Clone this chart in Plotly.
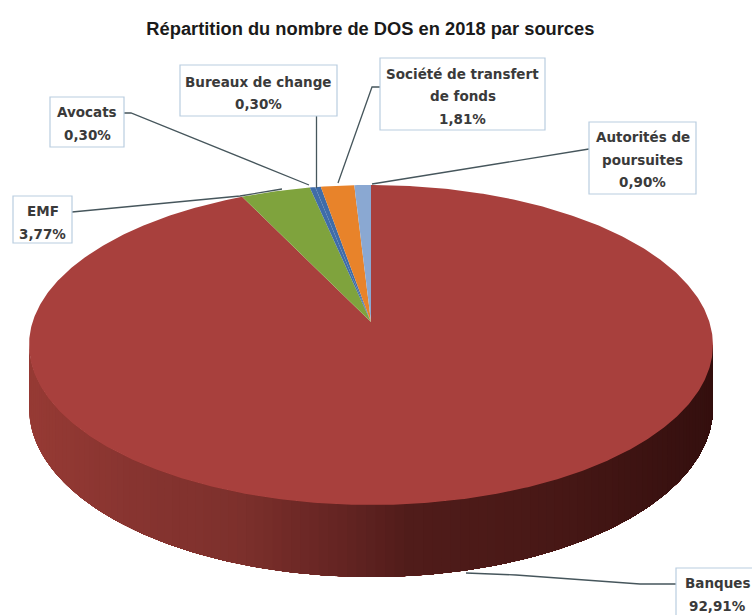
import numpy as np
import plotly.graph_objects as go

# Share of suspicious-transaction reports (DOS) by source, in percent
sources = ["Banques", "EMF", "Avocats", "Bureaux de change", "Société de transfert de fonds", "Autorités de poursuites"]
shares = [92.91, 3.77, 0.30, 0.30, 1.81, 0.90]
share_labels = ["92,91%", "3,77%", "0,30%", "0,30%", "1,81%", "0,90%"]
top_colors = ["#A8403D", "#7FA33D", "#3F6CA8", "#3F6CA8", "#E8832A", "#8AA8D2"]

# Perspective model of the tilted disc, in page pixels
CX, CY = 371.0, 322.0
RX, RY = 338.4, 156.7
TILT = 0.1437
DEPTH = 61.6


def project(theta_deg, radius=1.0, drop=0.0):
    """Map clockwise degrees from 12 o'clock to screen x, y."""
    t = np.radians(theta_deg)
    u = radius * np.sin(t)
    v = -radius * np.cos(t)
    w = 1 - TILT * v
    return CX + RX * u / w, CY + RY * v / w + drop / w


def lerp_color(stops, f):
    for (a, ca), (b, cb) in zip(stops, stops[1:]):
        if f <= b:
            k = (f - a) / (b - a)
            c = [round(x + (y - x) * k) for x, y in zip(ca, cb)]
            return f"rgb({c[0]},{c[1]},{c[2]})"
    c = stops[-1][1]
    return f"rgb({c[0]},{c[1]},{c[2]})"


fig = go.Figure()

# Outer wall shaded left to right: each band runs to the far end of the rim
# and is overpainted by the next one, which keeps the shading free of seams
wall_stops = [
    (0.00, (150, 58, 52)),
    (0.15, (135, 52, 48)),
    (0.30, (125, 48, 44)),
    (0.45, (100, 36, 34)),
    (0.55, (80, 28, 26)),
    (0.75, (72, 24, 22)),
    (1.00, (52, 15, 14)),
]
WALL_END = 98.0
wall_steps = np.linspace(262, WALL_END, 120)
for a0 in wall_steps[:-1]:
    arc = np.linspace(a0, WALL_END, max(3, int((a0 - WALL_END) * 2)))
    xt, yt = project(arc)
    xb, yb = project(arc, drop=DEPTH)
    xm = (xt[0] - (CX - 342)) / 684
    fig.add_trace(go.Scatter(
        x=np.r_[xt, xb[::-1], xt[0]],
        y=np.r_[yt, yb[::-1], yt[0]],
        mode="lines", line=dict(width=0), fill="toself",
        fillcolor=lerp_color(wall_stops, float(xm)), hoverinfo="skip", showlegend=False,
    ))

# Top face: one wedge per source, starting at 12 o'clock and running clockwise
edges = np.concatenate([[0], np.cumsum(shares)]) / sum(shares) * 360
for name, start, end, color in zip(sources, edges[:-1], edges[1:], top_colors):
    arc = np.linspace(start, end, max(3, int((end - start) * 2)))
    xs, ys = project(arc)
    fig.add_trace(go.Scatter(
        x=np.r_[CX, xs, CX], y=np.r_[CY, ys, CY],
        mode="lines", line=dict(width=0), fill="toself", fillcolor=color,
        name=name, hoverinfo="name", showlegend=False,
    ))

# Leader lines running from the labels to the slices
leaders = [
    ([124, 131, 309], [113, 113, 185]),
    ([316.5, 316.5], [116, 188]),
    ([380, 372, 338], [87, 87, 183]),
    ([589, 372], [149, 184]),
    ([72, 240, 282], [212, 196, 189]),
    ([676, 640, 516, 466], [584, 584, 575, 573]),
]
for lx, ly in leaders:
    fig.add_trace(go.Scatter(x=lx, y=ly, mode="lines", line=dict(color="#46565C", width=1.3),
                             hoverinfo="skip", showlegend=False))

# Boxed data labels: source index, text lines, box edges, centre of the first line
LINE_GAP = 22.5
label_boxes = [
    (0, ["Banques"], 676, 568, 760, 625, 583),
    (1, ["EMF"], 13, 196, 72, 243, 211),
    (2, ["Avocats"], 50, 97, 124, 147, 112),
    (3, ["Bureaux de change"], 180, 65, 337, 116, 81.5),
    (4, ["Société de transfert", "de fonds"], 380, 58, 545, 130, 73.5),
    (5, ["Autorités de", "poursuites"], 589, 122, 696, 194, 137),
]
for idx, lines, x0, y0, x1, y1, first_y in label_boxes:
    fig.add_shape(type="rect", x0=x0, y0=y0, x1=x1, y1=y1, xref="x", yref="y",
                  line=dict(color="#B9CDE0", width=1.2), fillcolor="white")
    for i, line in enumerate(lines + [share_labels[idx]]):
        fig.add_annotation(x=(x0 + x1) / 2 if x1 <= 752 else 717, y=first_y + i * LINE_GAP,
                           xref="x", yref="y", text=line, showarrow=False, align="center",
                           font=dict(family="DejaVu Sans", size=13.5, color="#3A3A3A", weight="bold"))

fig.update_layout(
    width=752, height=615, margin=dict(l=0, r=0, t=0, b=0),
    paper_bgcolor="white", plot_bgcolor="white",
    xaxis=dict(range=[0, 752], visible=False, fixedrange=True),
    yaxis=dict(range=[615, 0], visible=False, fixedrange=True),
    title=dict(text="<b>Répartition du nombre de DOS en 2018 par sources</b>",
               x=0.4925, xanchor="center", y=0.953, yanchor="middle",
               font=dict(family="Liberation Sans", size=18.3, color="#1A1A1A")),
)

fig.write_html("out.html")
